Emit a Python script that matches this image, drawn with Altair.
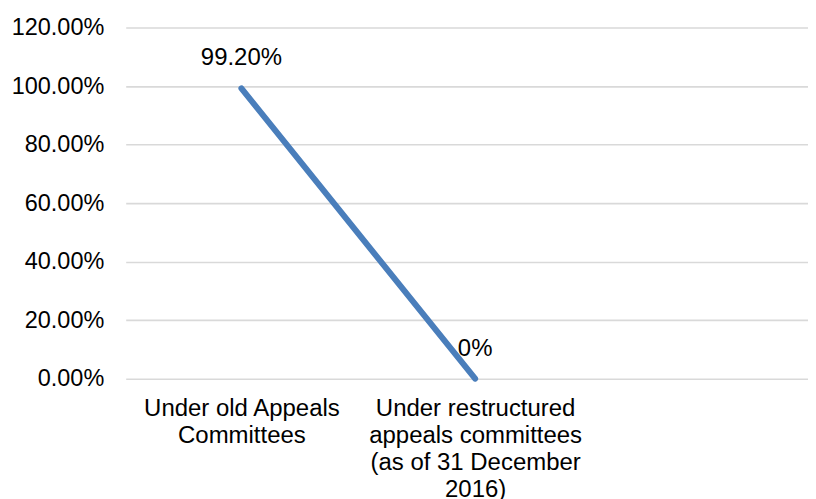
import altair as alt
import pandas as pd

categories = [
    "Under old Appeals|Committees",
    "Under restructured|appeals committees|(as of 31 December|2016)",
]
values = [0.992, 0.0]
value_labels = ["99.20%", "0%"]
domain_cats = categories + [" "]
y_ticks = [0, 0.2, 0.4, 0.6, 0.8, 1.0, 1.2]

df = pd.DataFrame({"category": categories, "value": values, "label": value_labels})

FONT = "Liberation Sans"

x = alt.X(
    "category:N",
    sort=None,
    scale=alt.Scale(domain=domain_cats, padding=0.4597, align=0.5385),
    axis=alt.Axis(
        title=None,
        labelAngle=0,
        labelExpr="split(datum.label, '|')",
        labelFontSize=24,
        labelLineHeight=27,
        labelPadding=18,
        labelLimit=400,
        domain=False,
        ticks=False,
        grid=False,
        labelColor="#000000",
        labelFont=FONT,
    ),
)
y = alt.Y(
    "value:Q",
    scale=alt.Scale(domain=[0, 1.2], nice=False),
    axis=alt.Axis(
        title=None,
        values=y_ticks,
        format=".2%",
        labelFontSize=23.5,
        labelPadding=22,
        domain=False,
        ticks=False,
        gridColor="#D9D9D9",
        gridWidth=1.6,
        labelColor="#000000",
        labelFont=FONT,
    ),
)

base = alt.Chart(df)
line = base.mark_line(color="#4A7EBB", strokeWidth=6, strokeCap="round").encode(x=x, y=y)
text = base.mark_text(dy=-23, baseline="alphabetic", fontSize=24, font=FONT, color="#000000").encode(
    x=x, y=y, text="label:N"
)

chart = (
    alt.layer(line, text)
    .properties(width=684, height=352, padding={"left": 3, "top": 7, "right": 0, "bottom": 0})
    .configure_view(stroke=None)
)

chart.save("out.html", embed_options={"renderer": "svg", "actions": False})
